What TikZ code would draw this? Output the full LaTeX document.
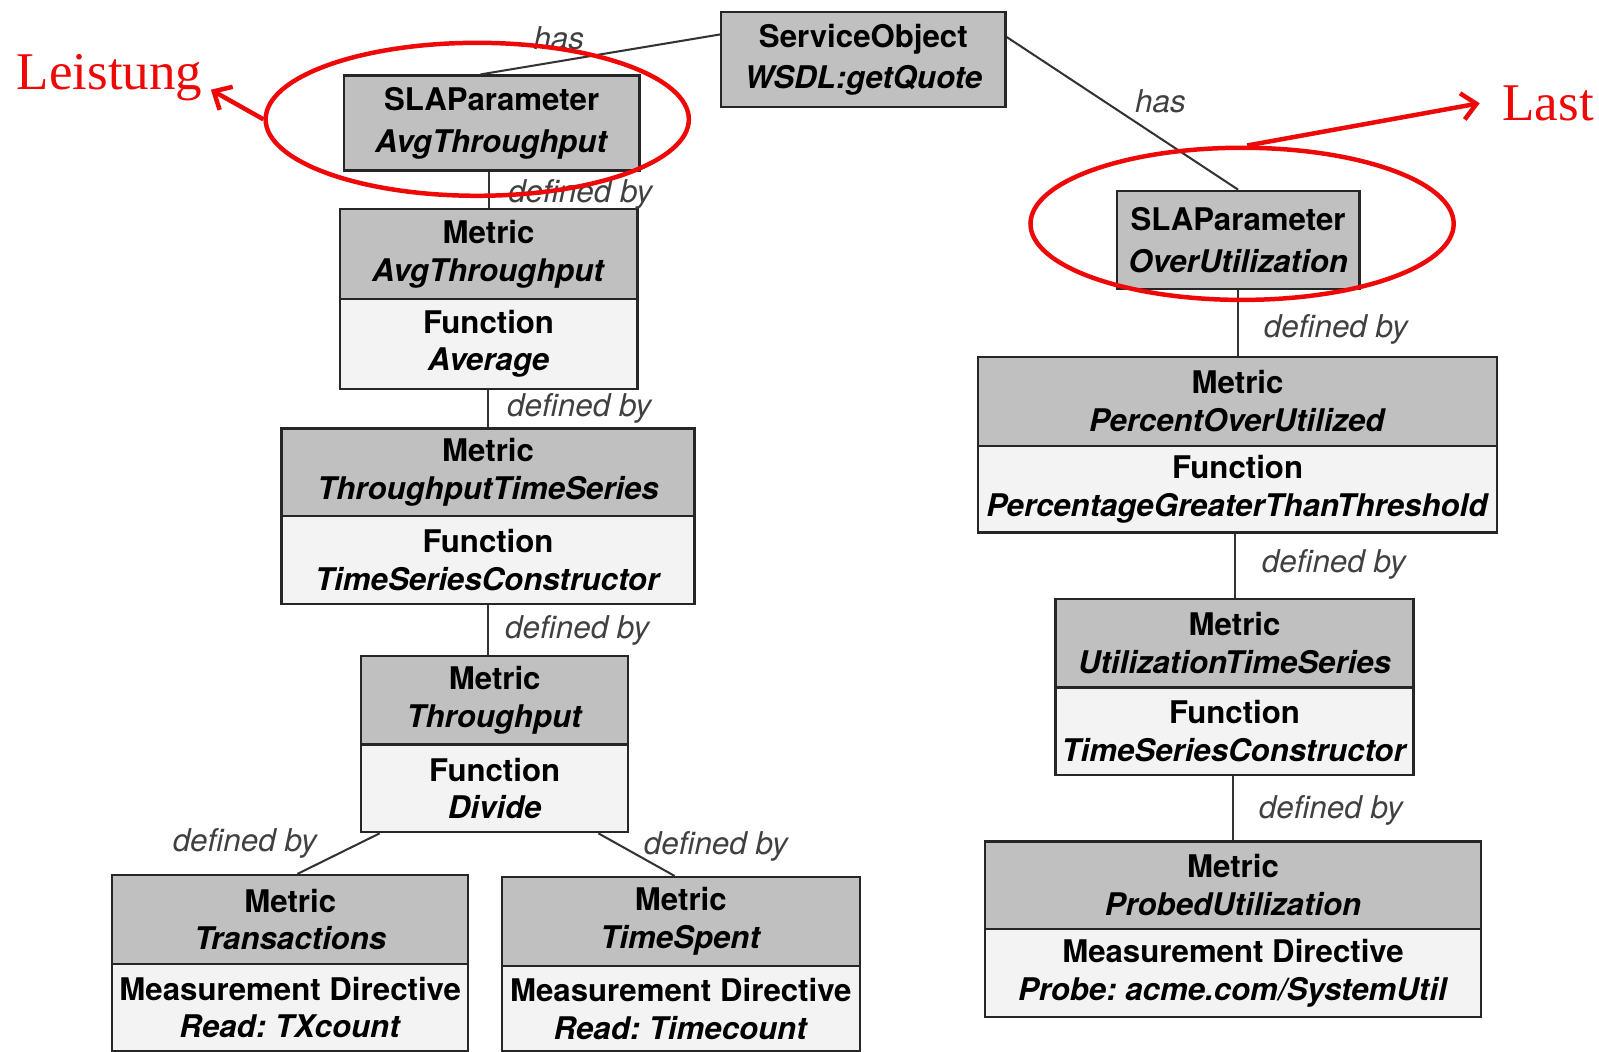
\documentclass[tikz,border=0pt]{standalone}
\usepackage{fontspec}
\setmainfont{Liberation Serif}
\newfontfamily\boxfont{TeX Gyre Heros}
\newfontfamily\labelfont{TeX Gyre Heros}
\newfontfamily\annotfont{Liberation Serif}
\usetikzlibrary{arrows.meta,shapes.geometric,calc}
\definecolor{hdrgray}{RGB}{192,192,192}
\definecolor{bodygray}{RGB}{243,243,243}
\definecolor{annred}{RGB}{238,8,8}
\frenchspacing
\begin{document}
\begin{tikzpicture}[x=0.5pt,y=-0.5pt,
  box/.style={draw=black!85, line width=1.1pt, inner sep=0pt, anchor=north west, align=center,
    font=\boxfont\bfseries\fontsize{15.3}{18.5}\selectfont},
  hdr/.style={box, fill=hdrgray},
  bdy/.style={box, fill=bodygray},
  wide/.style={font=\boxfont\bfseries\fontsize{15.3}{20.5}\selectfont},
  conn/.style={draw=black!80, line width=1pt},
  lbl/.style={font=\labelfont\itshape\fontsize{15.4}{17}\selectfont, text=black!75, inner sep=0pt, anchor=base},
  ann/.style={draw=annred, line width=2.2pt},
  annarrow/.style={ann, -{Straight Barb[length=7pt,width=13pt]}},
  anntext/.style={font=\annotfont\fontsize{26}{30}\selectfont, text=annred, inner sep=0pt, anchor=base west},
  ring/.style={ellipse, ann, inner sep=0pt}
]
\useasboundingbox (0,0) rectangle (1568,1031);

% service object and the two SLA parameters
\node[hdr, wide, minimum width=139.5pt, minimum height=46.5pt] (so) at (706,11)
  {ServiceObject\\\textit{WSDL:getQuote}};
\node[hdr, wide, minimum width=145pt, minimum height=46.5pt] (sla1) at (336,73)
  {SLAParameter\\\textit{AvgThroughput}};
\node[hdr, wide, minimum width=119pt, minimum height=48pt] (sla2) at (1094,186)
  {SLAParameter\\\textit{OverUtilization}};

% left chain of metrics
\node[hdr, minimum width=146pt, minimum height=44pt] (m1h) at (332,204) {Metric\\\textit{AvgThroughput}};
\node[bdy, minimum width=146pt, minimum height=44pt] (m1b) at (332,292) {Function\\\textit{Average}};

\node[hdr, minimum width=202.5pt, minimum height=43pt] (m2h) at (275,419) {Metric\\\textit{ThroughputTimeSeries}};
\node[bdy, minimum width=202.5pt, minimum height=43pt] (m2b) at (275,505) {Function\\\textit{TimeSeriesConstructor}};

\node[hdr, minimum width=131pt, minimum height=43.5pt] (m3h) at (353,642) {Metric\\\textit{Throughput}};
\node[bdy, minimum width=131pt, minimum height=43pt] (m3b) at (353,729) {Function\\\textit{Divide}};

\node[hdr, minimum width=174.5pt, minimum height=43.5pt] (trh) at (109,857) {Metric\\\textit{Transactions}};
\node[bdy, minimum width=174.5pt, minimum height=43pt] (trb) at (109,944) {Measurement Directive\\\textit{Read: TXcount}};

\node[hdr, minimum width=175.5pt, minimum height=43.5pt] (tsh) at (491,859) {Metric\\\textit{TimeSpent}};
\node[bdy, minimum width=175.5pt, minimum height=42pt] (tsb) at (491,946) {Measurement Directive\\\textit{Read: Timecount}};

% right chain of metrics
\node[hdr, minimum width=254.5pt, minimum height=43.5pt] (pouh) at (958,349) {Metric\\\textit{PercentOverUtilized}};
\node[bdy, minimum width=254.5pt, minimum height=42.5pt] (poub) at (958,436) {Function\\\textit{PercentageGreaterThanThreshold}};

\node[hdr, minimum width=175.5pt, minimum height=43.5pt] (utsh) at (1034,586) {Metric\\\textit{UtilizationTimeSeries}};
\node[bdy, minimum width=175.5pt, minimum height=43pt] (utsb) at (1034,673) {Function\\\textit{TimeSeriesConstructor}};

\node[hdr, minimum width=243pt, minimum height=43pt] (puh) at (965,824) {Metric\\\textit{ProbedUtilization}};
\node[bdy, minimum width=243pt, minimum height=43pt] (pub) at (965,910) {Measurement Directive\\\textit{Probe: acme.com/SystemUtil}};

% relations
\draw[conn] (so.170) -- (sla1.103);
\draw[conn] (so.9) -- (sla2.north);
\draw[conn] (m1h.north) -- (m1h.north |- sla1.south);
\draw[conn] (m2h.north) -- (m2h.north |- m1b.south);
\draw[conn] (m2b.south) -- (m2b.south |- m3h.north);
\draw[conn] ($(m3b.south west)!0.073!(m3b.south east)$) -- ($(trh.north)+(7,0)$);
\draw[conn] ($(m3b.south west)!0.885!(m3b.south east)$) -- ($(tsh.north)+(-6,0)$);
\draw[conn] (sla2.south) -- (sla2.south |- pouh.north);
\draw[conn] (utsh.north) -- (utsh.north |- poub.south);
\draw[conn] (puh.north) -- (puh.north |- utsb.south);

% relation labels
\node[lbl] (has1) at (548,49) {has};
\node[lbl] (has2) at (1138,110) {has};
\node[lbl] (d1) at (569,199) {defined by};
\node[lbl] (d2) at (568,408) {defined by};
\node[lbl] (d3) at (566,626) {defined by};
\node[lbl] (d4) at (240,835) {defined by};
\node[lbl] (d5) at (702,838) {defined by};
\node[lbl] (d6) at (1310,331) {defined by};
\node[lbl] (d7) at (1308,561) {defined by};
\node[lbl] (d8) at (1305,803) {defined by};

% red annotations
\node[ring, minimum width=207.5pt, minimum height=75pt] (e1) at (468,117) {};
\node[ring, minimum width=207.5pt, minimum height=74.6pt] (e2) at (1218,219.5) {};
\node[anntext] (leistung) at (16,88) {Leistung};
\node[anntext] (last) at (1473,118) {Last};
\draw[annarrow] (e1.west) -- ($(leistung.base east)+(8,0)$);
\draw[annarrow] ($(e2.north)+(5,0)$) -- ($(last.west)+(-22,0)$);
\end{tikzpicture}
\end{document}
